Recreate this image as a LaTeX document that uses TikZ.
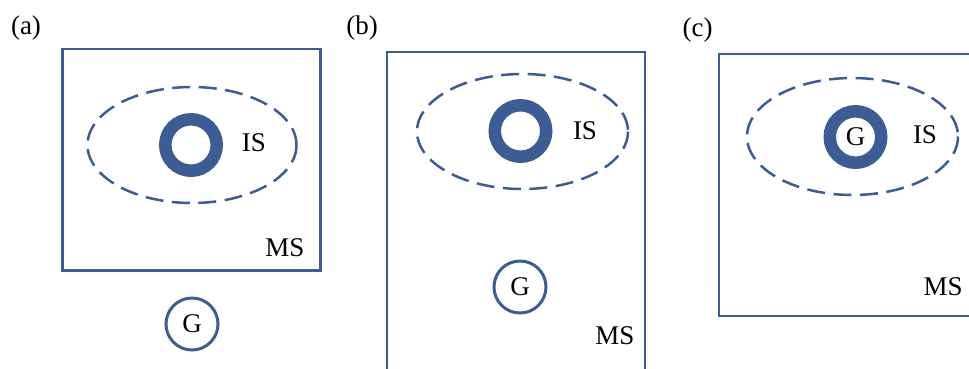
\documentclass[tikz,border=0pt]{standalone}
\usepackage{fontspec}
\setmainfont{Liberation Serif}
\definecolor{msblue}{RGB}{59,92,149}
\tikzset{
  msbox/.style={draw=msblue, line width=2.5pt},
  isregion/.style={draw=msblue, line width=2.5pt, dash pattern=on 18pt off 8.5pt},
  ring/.style={circle, draw=msblue, line width=12.5pt, minimum size=51.5pt, inner sep=0pt, text=black},
  gcirc/.style={circle, draw=msblue, line width=3pt, minimum size=52pt, inner sep=0pt, text=black},
  lbl/.style={inner sep=0pt, text=black, font=\fontsize{27}{30}\selectfont},
}
\begin{document}
\begin{tikzpicture}[x=1pt, y=-1pt, every node/.append style={font=\fontsize{27}{30}\selectfont}]
\useasboundingbox (0,0) rectangle (969,368);
\clip (0,0) rectangle (969,368);

% panel (a): G outside the medium
\node[lbl] (la) at (26,28) {(a)};
\draw[msbox] (62.5,49) rectangle (320.5,270.5);
\draw[isregion] (192,145) ellipse [x radius=104.5, y radius=58];
\node[ring] (ra) at (191,145) {};
\node[lbl] (isa) at (254,143) {IS};
\node[lbl] (msa) at (285,248) {MS};
\node[gcirc] (ga) at (192,324) {G};

% panel (b): G inside the medium, outside the inner region
\node[lbl] (lb) at (362,28) {(b)};
\draw[msbox] (387,52) rectangle (645,400);
\draw[isregion] (522.5,131.5) ellipse [x radius=105.5, y radius=57.5];
\node[ring] (rb) at (520.5,131) {};
\node[lbl] (isb) at (585,131) {IS};
\node[lbl] (msb) at (615,336) {MS};
\node[gcirc] (gb) at (520,287) {G};

% panel (c): G at the centre of the inner region
\node[lbl] (lc) at (697.5,30) {(c)};
\draw[msbox] (719,54) rectangle (1000,316);
\draw[isregion] (852.5,136.5) ellipse [x radius=105.5, y radius=58.5];
\node[ring] (rc) at (855.5,137) {G};
\node[lbl] (isc) at (925,135) {IS};
\node[lbl] (msc) at (943,287) {MS};
\end{tikzpicture}
\end{document}
